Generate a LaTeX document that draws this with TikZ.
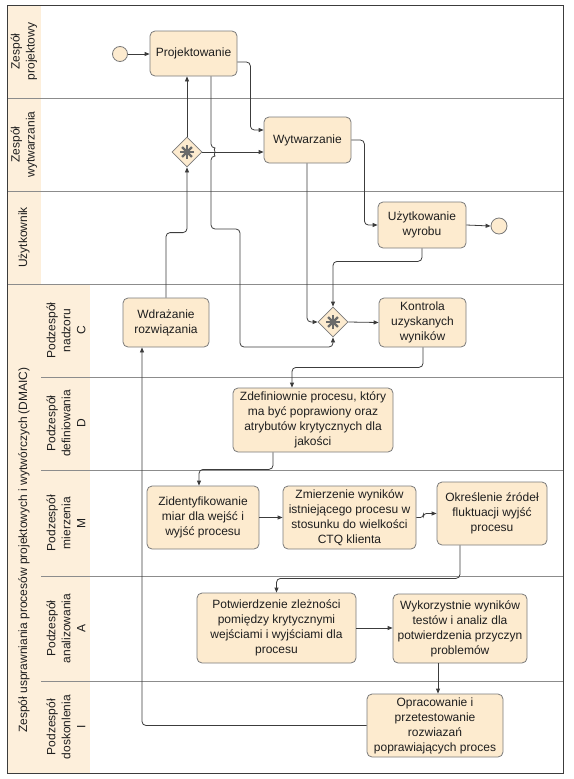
\documentclass[tikz,border=0pt]{standalone}
\usepackage{fontspec}
\setmainfont{Liberation Sans}
\usetikzlibrary{arrows.meta,shapes.geometric,calc}
\definecolor{boxfill}{HTML}{FDEBCF}
\definecolor{boxline}{HTML}{7A7A7A}
\definecolor{hdr}{HTML}{FDEFDB}
\definecolor{laneline}{HTML}{8C8C8C}
\definecolor{edgecol}{HTML}{3C3C3C}
\definecolor{txt}{HTML}{1E1E1E}
\definecolor{star}{HTML}{6A6A6A}
\begin{document}
\begin{tikzpicture}[x=1pt,y=-1pt,
  task/.style={draw=boxline, fill=boxfill, rounded corners=5pt, align=center,
    font=\fontsize{12}{15}\selectfont, text=txt, inner sep=1pt, line width=0.8pt},
  gw/.style={diamond, draw=boxline, fill=boxfill, minimum width=30pt, minimum height=30pt,
    inner sep=0pt, line width=0.8pt},
  evt/.style={circle, draw=boxline, fill=boxfill, minimum size=15pt, inner sep=0pt, line width=0.8pt},
  arr/.style={draw=edgecol, line width=0.8pt, -{Triangle[length=5pt,width=4pt]}, rounded corners=4pt},
  lanelab/.style={rotate=90, align=center, font=\fontsize{12}{15}\selectfont, text=txt},
  divider/.style={draw=laneline, line width=1pt}
]
\useasboundingbox (0,0) rectangle (573,779);

% headers
\fill[hdr] (7,5) rectangle (41,773);
\fill[hdr] (41,284) rectangle (90,773);

% lane lines
\draw[divider] (7,98) -- (563,98);
\draw[divider] (7,191) -- (563,191);
\draw[divider] (7,284) -- (563,284);
\draw[divider] (41,377) -- (563,377);
\draw[divider] (41,470) -- (563,470);
\draw[divider] (41,576) -- (563,576);
\draw[divider] (41,681) -- (563,681);
\draw[draw=edgecol, line width=1pt] (7,5) rectangle (563,773);

% lane labels
\node[lanelab] (l1) at (24,51.5) {Zespół\\projektowy};
\node[lanelab] (l2) at (24,144.5) {Zespół\\wytwarzania};
\node[lanelab] (l3) at (24,237.5) {Użytkownik};
\node[lanelab] (l4) at (24,550) {Zespół usprawniania procesów projektowych i wytwórczych (DMAIC)};
\node[lanelab] (s1) at (66,330.5) {Podzespół\\nadzoru\\C};
\node[lanelab] (s2) at (66,423.5) {Podzespół\\definiowania\\D};
\node[lanelab] (s3) at (66,523) {Podzespół\\mierzenia\\M};
\node[lanelab] (s4) at (66,628.5) {Podzespół\\analizowania\\A};
\node[lanelab] (s5) at (66,727) {Podzespół\\doskonlenia\\I};

% events
\node[evt] (start) at (120,54) {};
\node[evt, minimum size=16pt] (end) at (499,226) {};

% tasks
\node[task, minimum width=87pt, minimum height=45pt] (proj) at (193.5,53.5) {Projektowanie};
\node[task, minimum width=87pt, minimum height=46pt] (wyt) at (307.5,140) {Wytwarzanie};
\node[task, minimum width=88pt, minimum height=46pt] (uzy) at (422,225) {Użytkowanie\\wyrobu};
\node[task, minimum width=86pt, minimum height=49pt] (wdr) at (166,322.5) {Wdrażanie\\rozwiązania};
\node[task, minimum width=87pt, minimum height=49pt] (kon) at (422.5,322.5) {Kontrola\\uzyskanych\\wyników};
\node[task, minimum width=160pt, minimum height=64pt] (zdef) at (313,420) {Zdefiniownie procesu, który\\ma być poprawiony oraz\\atrybutów krytycznych dla\\jakości};
\node[task, minimum width=112pt, minimum height=63pt] (zid) at (203,517.5) {Zidentyfikowanie\\miar dla wejść i\\wyjść procesu};
\node[task, minimum width=133pt, minimum height=63pt] (zmi) at (349.5,517.5) {Zmierzenie wyników\\istniejącego procesu w\\stosunku do wielkości\\CTQ klienta};
\node[task, minimum width=110pt, minimum height=63pt] (okr) at (492,513.5) {Określenie źródeł\\fluktuacji wyjść\\procesu};
\node[task, minimum width=159pt, minimum height=70pt] (pot) at (276.5,628) {Potwierdzenie zleżności\\pomiędzy krytycznymi\\wejściami i wyjściami dla\\procesu};
\node[task, minimum width=134pt, minimum height=69pt] (wyk) at (460,628.5) {Wykorzystnie wyników\\testów i analiz dla\\potwierdzenia przyczyn\\problemów};
\node[task, minimum width=136pt, minimum height=63pt] (opr) at (435,725.5) {Opracowanie i\\przetestowanie\\rozwiazań\\poprawiających proces};

% gateways
\node[gw] (g1) at (187,152) {};
\node[gw] (g2) at (333,322) {};
\foreach \g in {g1,g2}{
  \foreach \a in {0,45,90,135}{
    \draw[star, line width=2.2pt] ($(\g)+(\a:7)$) -- ($(\g)+(\a+180:7)$);
  }
}

% connectors
\draw[arr] (start) -- (proj.west |- start);
\draw[arr] ([yshift=-8.5pt]proj.east) -- ++(13,0) |- ([yshift=10pt]wyt.west);
\draw[arr] (g1.east) -- (g1.east -| wyt.west);
\draw[arr] (g1.north) -- (g1.north |- proj.south);
\draw[arr] (wdr.north) -- ++(0,-65) -| (g1.south);
\draw[arr] ([xshift=17.5pt]proj.south) -- (211,148)
   arc[start angle=-90, end angle=90, radius=4] -- (211,229) -| (240,347) -| (g2.south);
\draw[arr] ([xshift=-0.5pt]wyt.south) |- (g2.west);
\draw[arr] (uzy.south) -- ++(0,13) -| (g2.north);
\draw[arr] (wyt.east) -- ++(13,0) |- (uzy.west);
\draw[arr] (uzy.east) -- (end.west);
\draw[arr] (g2.east) -- (kon.west);
\draw[arr] ([xshift=0.5pt]kon.south) -- ++(0,20) -| ([xshift=-21pt]zdef.north);
\draw[arr] ([xshift=-40pt]zdef.south) -- ++(0,17) -| ([xshift=-4pt]zid.north);
\draw[arr] (zid.east) -- (zmi.west);
\draw[arr, rounded corners=3pt] (zmi.east) -- ++(7,0) |- (okr.west);
\draw[arr] ([xshift=-32pt]okr.south) -- ++(0,33) -| (pot.north);
\draw[arr] (pot.east) -- (pot.east -| wyk.west);
\draw[arr] ([xshift=-22pt]wyk.south) -- ([xshift=3pt]opr.north);
\draw[arr] (opr.west) -| ([xshift=-24pt]wdr.south);
\end{tikzpicture}
\end{document}
